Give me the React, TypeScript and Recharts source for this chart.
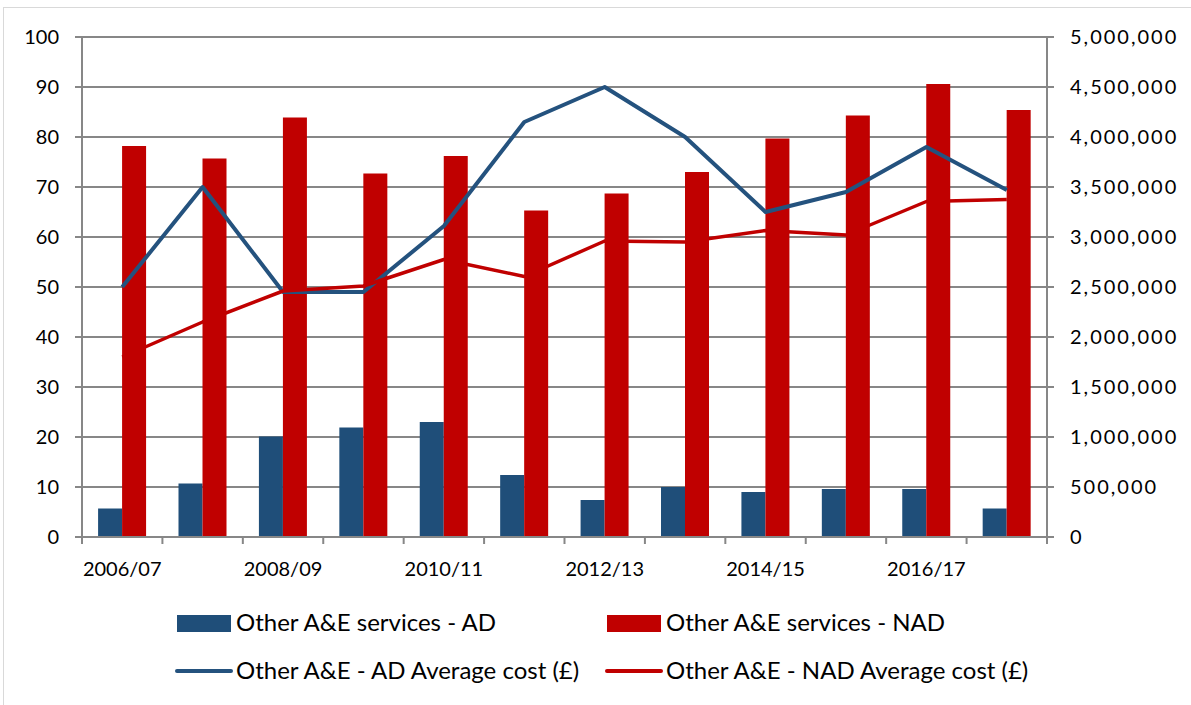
import React from "react";
import {
  ComposedChart,
  Bar,
  Line,
  XAxis,
  YAxis,
  CartesianGrid,
} from "recharts";

const years = [
  "2006/07", "2007/08", "2008/09", "2009/10", "2010/11", "2011/12",
  "2012/13", "2013/14", "2014/15", "2015/16", "2016/17", "2017/18",
];

// attendances (right axis)
const servicesAD = [
  285000, 535000, 1005000, 1095000, 1150000, 620000,
  370000, 500000, 450000, 480000, 480000, 285000,
];
const servicesNAD = [
  3910000, 3785000, 4195000, 3635000, 3810000, 3265000,
  3435000, 3650000, 3985000, 4215000, 4530000, 4270000,
];

// average cost in £ (left axis)
const costAD = [50, 70, 49, 49, 62.2, 83, 90, 80, 65, 69, 78, 69.4];
const costNAD = [36, 43, 49.2, 50.2, 55.5, 52.1, 59.2, 59, 61.3, 60.4, 67.1, 67.5];

const leftTicks = [0, 10, 20, 30, 40, 50, 60, 70, 80, 90, 100];
const rightTicks = [
  0, 500000, 1000000, 1500000, 2000000, 2500000,
  3000000, 3500000, 4000000, 4500000, 5000000,
];

const data = years.map((year, i) => ({
  year,
  servicesAD: servicesAD[i],
  servicesNAD: servicesNAD[i],
  costAD: costAD[i],
  costNAD: costNAD[i],
}));

const BLUE = "#1F4E79";
const BLUE_LINE = "#24527E";
const RED = "#C00000";
const GRID = "#878787";
const FONT = "Lato, 'Open Sans', sans-serif";

const W = 1191;
const H = 705;
const PLOT_LEFT = 82;
const PLOT_RIGHT = 1047;
const halfBand = (PLOT_RIGHT - PLOT_LEFT) / years.length / 2;

const XTick = (props: any) => {
  const { x, y, payload, index } = props;
  const left = x - halfBand;
  return (
    <g>
      <line x1={left} y1={y} x2={left} y2={y + 7} stroke={GRID} strokeWidth={2} />
      {index === years.length - 1 && (
        <line x1={x + halfBand} y1={y} x2={x + halfBand} y2={y + 7} stroke={GRID} strokeWidth={2} />
      )}
      {index % 2 === 0 && (
        <text x={x} y={y + 39} textAnchor="middle" fontSize={20} fontFamily={FONT} fill="#000">
          {payload.value}
        </text>
      )}
    </g>
  );
};

const legendItems = [
  { label: "Other A&E services - AD", color: BLUE, kind: "bar", x: 177, y: 623 },
  { label: "Other A&E services - NAD", color: RED, kind: "bar", x: 607, y: 623 },
  { label: "Other A&E - AD Average cost (£)", color: BLUE_LINE, kind: "line", x: 177, y: 671 },
  { label: "Other A&E - NAD Average cost (£)", color: RED, kind: "line", x: 607, y: 671 },
];

export default function App() {
  return (
    <div
      style={{
        position: "fixed",
        left: 0,
        top: 0,
        width: W,
        height: H,
        overflow: "hidden",
        background: "#fff",
        fontFamily: FONT,
      }}
    >
      <div
        style={{
          position: "absolute",
          left: 3,
          top: 7,
          width: W + 20,
          height: H + 20,
          border: "1px solid #d9d9d9",
        }}
      />
      <div style={{ position: "absolute", left: 0, top: 0 }}>
        <ComposedChart
          width={W}
          height={H}
          data={data}
          margin={{ top: 37, right: 0, bottom: 0, left: 0 }}
          barCategoryGap="20%"
          barGap={0}
        >
          <CartesianGrid
            yAxisId="left"
            vertical={false}
            stroke={GRID}
            strokeWidth={2}
          />
          <XAxis
            dataKey="year"
            interval={0}
            height={168}
            tickSize={0}
            tickMargin={0}
            tickLine={false}
            axisLine={{ stroke: GRID, strokeWidth: 2 }}
            tick={<XTick />}
          />
          <YAxis
            yAxisId="left"
            orientation="left"
            width={PLOT_LEFT}
            domain={[0, 100]}
            ticks={leftTicks}
            interval={0}
            tickSize={7}
            tickMargin={16}
            axisLine={{ stroke: GRID, strokeWidth: 2 }}
            tickLine={{ stroke: GRID, strokeWidth: 2 }}
            tick={{ fontSize: 20, fill: "#000", fontFamily: FONT }}
          />
          <YAxis
            yAxisId="right"
            orientation="right"
            width={W - PLOT_RIGHT}
            domain={[0, 5000000]}
            ticks={rightTicks}
            interval={0}
            tickSize={7}
            tickMargin={16}
            axisLine={{ stroke: GRID, strokeWidth: 2 }}
            tickLine={{ stroke: GRID, strokeWidth: 2 }}
            tickFormatter={(v: number) => v.toLocaleString("en-GB")}
            tick={{
              fontSize: 20,
              fill: "#000",
              fontFamily: FONT,
              textAnchor: "start",
              letterSpacing: 2,
            }}
          />
          <Bar yAxisId="right" dataKey="servicesAD" fill={BLUE} isAnimationActive={false} />
          <Bar yAxisId="right" dataKey="servicesNAD" fill={RED} isAnimationActive={false} />
          <Line
            yAxisId="left"
            dataKey="costAD"
            stroke={BLUE_LINE}
            strokeWidth={4}
            dot={false}
            strokeLinejoin="round"
            isAnimationActive={false}
          />
          <Line
            yAxisId="left"
            dataKey="costNAD"
            stroke={RED}
            strokeWidth={3.5}
            dot={false}
            strokeLinejoin="round"
            isAnimationActive={false}
          />
        </ComposedChart>
      </div>
      <svg
        width={W}
        height={H}
        style={{ position: "absolute", left: 0, top: 0, pointerEvents: "none" }}
      >
        {legendItems.map((item) =>
          <g key={item.label}>
            {item.kind === "bar" ? (
              <rect x={item.x} y={item.y - 8} width={54} height={17} fill={item.color} />
            ) : (
              <line
                x1={item.x}
                y1={item.y}
                x2={item.x + 54}
                y2={item.y}
                stroke={item.color}
                strokeWidth={4}
                strokeLinecap="round"
              />
            )}
            <text
              x={item.x + 59}
              y={item.y + 8}
              fontSize={24}
              fontFamily={FONT}
              fill="#000"
            >
              {item.label}
            </text>
          </g>
        )}
      </svg>
    </div>
  );
}
